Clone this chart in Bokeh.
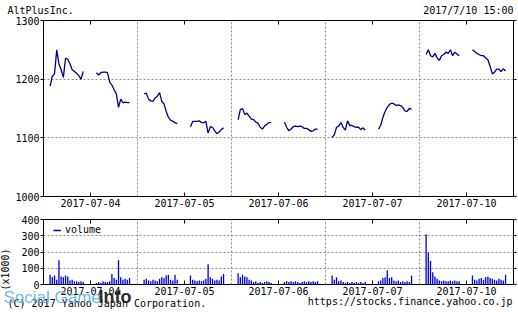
import numpy as np
from bokeh.plotting import figure
from bokeh.layouts import column
from bokeh.models import (Range1d, FixedTicker, LinearAxis, Legend, LegendItem,
                          ColumnDataSource, Title)
from bokeh.embed import file_html
from bokeh.resources import INLINE

# ---------------- data ----------------
days = ["2017-07-04", "2017-07-05", "2017-07-06", "2017-07-07", "2017-07-10"]
price_ticks = [1000, 1100, 1200, 1300]
volume_ticks = [0, 100, 200, 300, 400]

# sampling times (minutes after midnight), 10-minute steps
am_minutes = list(range(540, 691, 10))   # 09:00 .. 11:30
pm_minutes = list(range(750, 901, 10))   # 12:30 .. 15:00

# price (yen)
d1_am = [1188, 1205, 1209, 1250, 1226, 1216, 1203, 1236, 1234, 1226, 1216, 1213, 1210, 1206, 1200, 1213]
d1_pm = [1211, 1207, 1211, 1212, 1212, 1211, 1195, 1190, 1182, 1175, 1152, 1166, 1160, 1161, 1160, 1160]
d2_am = [1175, 1176, 1166, 1163, 1162, 1168, 1171, 1177, 1162, 1158, 1145, 1135, 1130, 1128, 1126, 1124]
d2_pm = [1119, 1128, 1128, 1128, 1129, 1126, 1126, 1128, 1108, 1119, 1118, 1112, 1107, 1110, 1114, 1117]
d3_am = [1131, 1148, 1150, 1140, 1142, 1137, 1132, 1131, 1127, 1125, 1118, 1115, 1120, 1123, 1126, 1126]
d3_pm = [1127, 1118, 1112, 1115, 1119, 1120, 1119, 1120, 1119, 1116, 1116, 1114, 1111, 1112, 1115, 1115]
d4_am = [1101, 1105, 1118, 1120, 1126, 1118, 1113, 1129, 1121, 1121, 1119, 1118, 1118, 1114, 1117, 1113]
d4_pm = [1115, 1121, 1135, 1145, 1152, 1157, 1159, 1158, 1155, 1156, 1155, 1152, 1146, 1145, 1150, 1149]
d5_am = [1242, 1250, 1240, 1238, 1244, 1236, 1232, 1240, 1242, 1246, 1244, 1250, 1240, 1246, 1243, 1240]
d5_pm = [1250, 1247, 1244, 1242, 1240, 1240, 1236, 1233, 1222, 1209, 1212, 1217, 1217, 1213, 1218, 1214]

# volume (x1000 shares)
v1_am = [60, 45, 55, 30, 150, 50, 45, 55, 50, 25, 30, 20, 20, 15, 20, 15]
v1_pm = [10, 15, 10, 20, 15, 15, 20, 65, 40, 30, 150, 45, 30, 35, 30, 40]
v2_am = [30, 35, 25, 20, 30, 25, 20, 35, 45, 40, 55, 60, 30, 25, 60, 30]
v2_pm = [55, 30, 25, 20, 25, 20, 25, 35, 125, 45, 35, 25, 30, 25, 50, 65]
v3_am = [70, 45, 60, 50, 45, 30, 25, 15, 20, 10, 15, 10, 15, 20, 15, 10]
v3_pm = [15, 20, 15, 20, 15, 20, 15, 10, 15, 20, 15, 20, 15, 20, 15, 20]
v4_am = [55, 30, 45, 20, 25, 15, 10, 15, 10, 15, 10, 15, 10, 15, 10, 15]
v4_pm = [20, 25, 40, 45, 88, 40, 45, 25, 20, 25, 15, 20, 15, 20, 15, 55]
v5_am = [310, 195, 145, 75, 50, 35, 25, 20, 25, 20, 20, 25, 20, 25, 20, 20]
v5_pm = [55, 30, 25, 35, 40, 30, 45, 50, 40, 35, 30, 25, 35, 30, 25, 60]

price_sessions = [(d1_am, d1_pm), (d2_am, d2_pm), (d3_am, d3_pm), (d4_am, d4_pm), (d5_am, d5_pm)]
volume_sessions = [(v1_am, v1_pm), (v2_am, v2_pm), (v3_am, v3_pm), (v4_am, v4_pm), (v5_am, v5_pm)]

# ---------------- x positions: day index + fraction of the 08:30..15:36 window ----------------
DAY_START, DAY_LEN = 510, 426


def tx(d, m):
    return d + (m - DAY_START) / DAY_LEN


px, py, vx, vy = [], [], [], []
for d, ((pam, ppm), (vam, vpm)) in enumerate(zip(price_sessions, volume_sessions)):
    for mins, pvals, vvals in ((am_minutes, pam, vam), (pm_minutes, ppm, vpm)):
        xs = [tx(d, m) for m in mins]
        px += xs + [np.nan]
        py += list(pvals) + [np.nan]
        vx += xs
        vy += list(vvals)

FONT = "DejaVu Sans Mono"
FS = "10px"
GRID_COLOR = "#8c8c8c"
tick_pos = [i + 0.5 for i in range(len(days))]
tick_labels = {t: lab for t, lab in zip(tick_pos, days)}


def style(p, yticks, ygrid):
    p.outline_line_color = "black"
    p.outline_line_alpha = 1.0
    p.outline_line_width = 1
    p.background_fill_color = "white"
    p.border_fill_color = "white"
    xa = p.xaxis[0]
    xa.ticker = FixedTicker(ticks=tick_pos)
    xa.major_label_overrides = tick_labels
    xa.major_tick_in = 4
    xa.major_tick_out = 0
    xa.minor_tick_line_color = None
    xa.axis_line_color = None
    xa.major_label_standoff = 2
    xa.major_label_text_font = FONT
    xa.major_label_text_font_size = FS
    xa.major_label_text_color = "black"
    xa.major_tick_line_color = "black"
    ya = p.yaxis[0]
    ya.ticker = FixedTicker(ticks=yticks)
    ya.major_tick_in = 0
    ya.major_tick_out = 3
    ya.minor_tick_line_color = None
    ya.axis_line_color = None
    ya.major_label_standoff = 1
    ya.major_label_text_font = FONT
    ya.major_label_text_font_size = FS
    ya.major_label_text_color = "black"
    ya.major_tick_line_color = "black"
    # top and right: tick marks only (minor ticks carry no labels)
    top = LinearAxis(ticker=FixedTicker(ticks=[], minor_ticks=tick_pos),
                     minor_tick_in=4, minor_tick_out=0, minor_tick_line_color="black",
                     major_tick_line_color=None, axis_line_color=None, major_label_standoff=0)
    p.add_layout(top, "above")
    right = LinearAxis(ticker=FixedTicker(ticks=[], minor_ticks=yticks),
                       minor_tick_in=0, minor_tick_out=3, minor_tick_line_color="black",
                       major_tick_line_color=None, axis_line_color=None, major_label_standoff=0)
    p.add_layout(right, "right")
    p.xgrid.ticker = FixedTicker(ticks=[1, 2, 3, 4])
    p.ygrid.ticker = FixedTicker(ticks=ygrid)
    for g in (p.xgrid[0], p.ygrid[0]):
        g.grid_line_color = GRID_COLOR
        g.grid_line_dash = "2 2"
        g.grid_line_width = 1


def margin_text(text, align, valign, offset, standoff, font=FONT, size=FS, style_="normal",
                color="black", alpha=1.0):
    return Title(text=text, align=align, vertical_align=valign, offset=offset, standoff=standoff,
                 text_font=font, text_font_size=size, text_font_style=style_,
                 text_color=color, text_alpha=alpha)


# ---------------- price panel ----------------
p1 = figure(width=518, height=212, x_range=Range1d(0, 5), y_range=Range1d(1000, 1300),
            output_backend="svg", toolbar_location=None,
            min_border_left=43, min_border_right=5, min_border_top=20, min_border_bottom=16)
style(p1, price_ticks, [1100, 1200])
p1.line(x="x", y="y", source=ColumnDataSource(dict(x=px, y=py)),
        line_color="#000080", line_width=1.3)
p1.add_layout(margin_text("AltPlusInc.", "left", "top", -36, -31.6), "above")
p1.add_layout(margin_text("2017/7/10 15:00", "right", "top", 0, -31.6), "above")

# ---------------- volume panel ----------------
p2 = figure(width=518, height=100, x_range=Range1d(0, 5), y_range=Range1d(0, 400),
            output_backend="svg", toolbar_location=None,
            min_border_left=43, min_border_right=5, min_border_top=7, min_border_bottom=28)
style(p2, volume_ticks, [100, 200, 300])
vsrc = ColumnDataSource(dict(x=vx, top=vy))
p2.vbar(x="x", top="top", bottom=0, width=0.014, source=vsrc,
        fill_color="#0000e6", line_color=None)
vol_line = p2.line(x="x", y="top", source=vsrc, line_color="#0000cc", line_width=1.5, visible=False)

legend = Legend(items=[LegendItem(label="volume", renderers=[vol_line])],
                location=(10, 49), orientation="vertical",
                border_line_color=None, background_fill_alpha=0,
                label_text_font=FONT, label_text_font_size=FS, label_text_color="black",
                glyph_width=8, glyph_height=10, label_height=10, label_standoff=4,
                padding=1, margin=0, spacing=0)
p2.add_layout(legend)

p2.add_layout(margin_text("(x1000)", "left", "top", -6, -38), "left")
p2.add_layout(margin_text("(C) 2017 Yahoo Japan Corporation.", "left", "top", -36, 0), "below")
p2.add_layout(margin_text("https://stocks.finance.yahoo.co.jp", "right", "top", 1, -28.6), "below")
# watermark overlay
p2.add_layout(margin_text("Social Game", "left", "top", -40, -44.8, font="Liberation Sans",
                          size="17px", color="#5ab2e4", alpha=0.9), "below")
p2.add_layout(margin_text("Info", "left", "top", 55, -46.6, font="Liberation Sans",
                          size="18px", style_="bold", color="#2a2a2a"), "below")

layout = column(p1, p2, spacing=0)
open("out.html", "w").write(file_html(layout, INLINE))
